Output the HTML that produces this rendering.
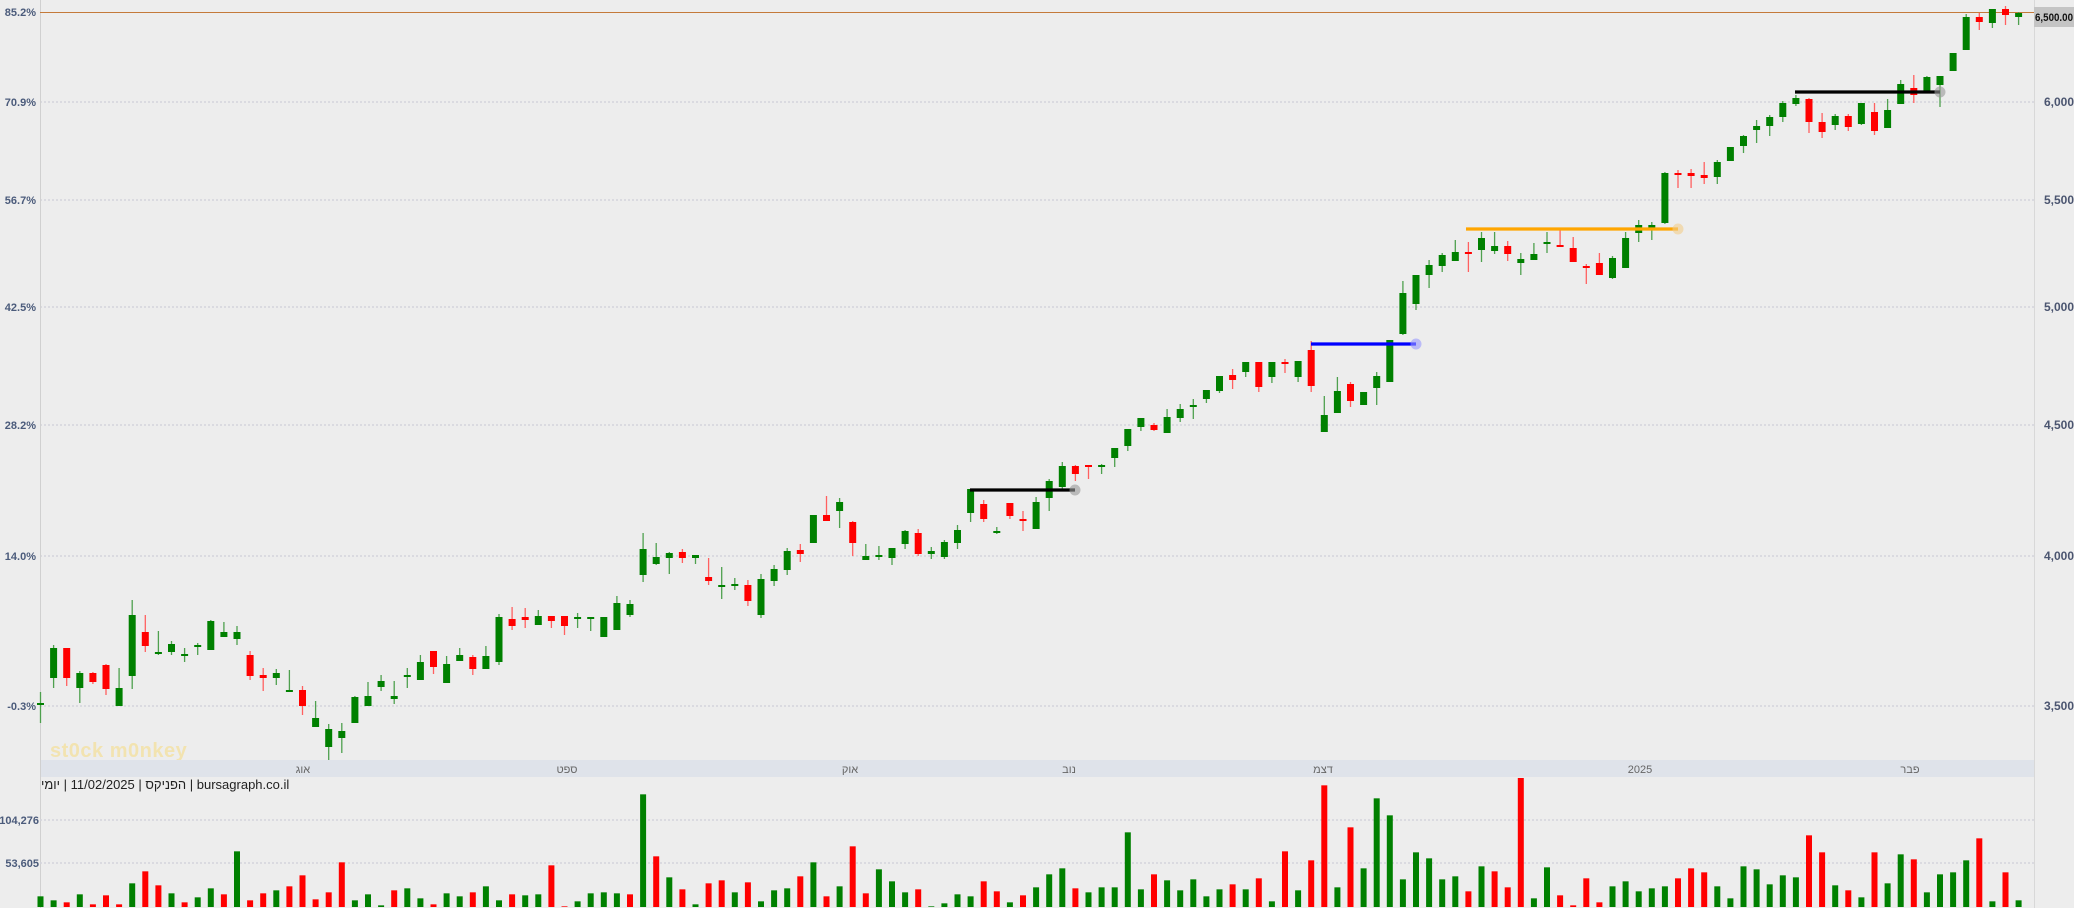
<!DOCTYPE html>
<html><head><meta charset="utf-8"><style>
html,body{margin:0;padding:0;background:#ededed;}
svg{display:block;}
</style></head><body>
<svg id="c" width="2074" height="908" xmlns="http://www.w3.org/2000/svg" font-family="Liberation Sans, sans-serif"></svg>
<script>
const svg=document.getElementById('c');
let h='';
h+='<rect x="0" y="0" width="2074" height="908" fill="#ededed"/>';
const grid=[[102,'70.9%','6,000'],[200,'56.7%','5,500'],[307,'42.5%','5,000'],[425,'28.2%','4,500'],[556,'14.0%','4,000'],[706,'-0.3%','3,500']];
for(const g of grid){
 h+=`<line x1="40" y1="${g[0]}" x2="2034" y2="${g[0]}" stroke="#d3d4dc" stroke-width="1.5" stroke-dasharray="2 2"/>`;
 h+=`<text x="36" y="${g[0]+4}" text-anchor="end" font-size="11" font-weight="bold" fill="#4b5b7b">${g[1]}</text>`;
 h+=`<text x="2044" y="${g[0]+4}" font-size="12" font-weight="bold" fill="#4b5570">${g[2]}</text>`;
}
h+=`<text x="36" y="16" text-anchor="end" font-size="11" font-weight="bold" fill="#4b5b7b">85.2%</text>`;
h+='<line x1="40.5" y1="0" x2="40.5" y2="908" stroke="#d0d0d0"/>';
h+='<line x1="2034.5" y1="0" x2="2034.5" y2="908" stroke="#d8d8d8"/>';
h+='<text x="50" y="757" font-size="20" font-weight="bold" fill="#f2e3b0" letter-spacing="0.5">st0ck m0nkey</text>';
h+='<rect x="41" y="760" width="1993" height="17" fill="#dfe3ea"/>';
const mon=[[303,'אוג'],[567,'ספט'],[850,'אוק'],[1069,'נוב'],[1323,'דצמ'],[1640,'2025'],[1910,'פבר']];
for(const m of mon) h+=`<text x="${m[0]}" y="773" text-anchor="middle" font-size="11" fill="#666" font-family="Liberation Sans, DejaVu Sans, sans-serif">${m[1]}</text>`;
h+='<line x1="40" y1="820" x2="2034" y2="820" stroke="#d3d4dc" stroke-width="1.5" stroke-dasharray="2 2"/>';
h+='<line x1="40" y1="863" x2="2034" y2="863" stroke="#d3d4dc" stroke-width="1.5" stroke-dasharray="2 2"/>';
h+='<text x="39" y="824" text-anchor="end" font-size="11" font-weight="bold" fill="#4b5b7b">104,276</text>';
h+='<text x="39" y="867" text-anchor="end" font-size="11" font-weight="bold" fill="#4b5b7b">53,605</text>';
h+='<line x1="40" y1="12.5" x2="2034" y2="12.5" stroke="#c47a3a" stroke-width="1"/>';
const C=[[703,704,692,723,'g'],[648,678,645,688,'g'],[648,678,648,686,'r'],[673,688,671,703,'g'],[673,682,672,684,'r'],[665,689,664,695,'r'],[688,706,668,706,'g'],[615,676,600,689,'g'],[632,646,615,652,'r'],[652,654,631,655,'g'],[644,652,641,655,'g'],[654,655,648,662,'g'],[645,646,643,655,'g'],[621,650,620,650,'g'],[632,637,622,637,'g'],[632,639,626,645,'g'],[655,676,651,680,'r'],[675,678,668,691,'r'],[673,678,669,685,'g'],[690,691,670,692,'g'],[690,706,686,715,'r'],[718,727,701,727,'g'],[729,747,724,760,'g'],[731,738,723,753,'g'],[697,723,696,723,'g'],[696,706,682,706,'g'],[681,687,675,691,'g'],[696,699,681,704,'g'],[675,676,668,688,'g'],[662,680,655,680,'g'],[651,667,651,674,'r'],[664,683,656,683,'g'],[655,661,648,661,'g'],[657,669,655,675,'r'],[656,669,646,669,'g'],[617,662,614,665,'g'],[619,626,607,630,'r'],[617,620,608,628,'r'],[616,625,610,625,'g'],[616,621,616,628,'r'],[616,626,616,635,'r'],[617,618,613,628,'g'],[617,618,617,631,'g'],[617,637,617,637,'g'],[603,630,596,630,'g'],[604,615,600,617,'g'],[549,575,533,582,'g'],[557,564,543,565,'g'],[553,558,552,574,'g'],[552,558,549,563,'r'],[555,558,555,564,'g'],[577,581,558,585,'r'],[585,586,567,599,'g'],[584,585,578,590,'g'],[585,601,580,606,'r'],[579,615,574,618,'g'],[569,581,565,586,'g'],[551,570,548,575,'g'],[550,554,544,562,'r'],[515,543,515,543,'g'],[515,521,496,521,'r'],[502,511,498,528,'g'],[522,543,521,556,'r'],[556,560,544,560,'g'],[555,557,546,560,'g'],[548,558,548,565,'g'],[531,544,530,549,'g'],[533,554,529,556,'r'],[551,554,547,559,'g'],[542,557,540,559,'g'],[530,543,525,549,'g'],[489,513,489,522,'g'],[504,519,500,522,'r'],[531,532,527,534,'g'],[503,516,503,519,'r'],[519,520,511,531,'r'],[502,529,497,529,'g'],[481,498,479,511,'g'],[466,487,462,489,'g'],[466,474,465,481,'r'],[465,467,465,479,'r'],[465,466,464,474,'g'],[448,458,448,467,'g'],[429,446,429,451,'g'],[418,427,418,431,'g'],[425,430,423,431,'r'],[417,433,409,433,'g'],[409,418,404,422,'g'],[405,406,399,419,'g'],[390,399,390,403,'g'],[376,391,376,393,'g'],[375,380,369,389,'r'],[362,372,362,377,'g'],[362,387,362,392,'r'],[362,377,362,383,'g'],[362,363,359,373,'r'],[361,377,361,382,'g'],[350,386,341,392,'r'],[415,432,396,432,'g'],[391,413,377,413,'g'],[384,401,382,407,'r'],[392,405,392,405,'g'],[376,388,372,405,'g'],[340,382,340,382,'g'],[293,334,281,335,'g'],[275,304,275,310,'g'],[265,275,260,288,'g'],[255,266,253,272,'g'],[252,261,240,261,'g'],[252,254,242,272,'r'],[238,250,232,262,'g'],[246,251,232,254,'g'],[246,254,241,261,'r'],[259,263,253,275,'g'],[254,260,243,260,'g'],[242,244,232,253,'g'],[245,247,230,247,'r'],[248,262,237,262,'r'],[266,268,264,284,'r'],[263,275,253,275,'r'],[258,278,256,279,'g'],[238,268,232,268,'g'],[225,233,220,242,'g'],[225,228,222,240,'g'],[173,223,172,224,'g'],[173,174,170,188,'r'],[173,176,169,188,'r'],[175,178,162,184,'r'],[162,177,160,184,'g'],[147,161,147,161,'g'],[136,146,135,153,'g'],[126,130,120,143,'g'],[117,126,115,136,'g'],[103,117,101,122,'g'],[98,104,95,106,'g'],[99,122,98,133,'r'],[122,132,113,138,'r'],[116,125,114,130,'g'],[116,127,114,131,'r'],[103,124,103,125,'g'],[112,131,103,135,'r'],[110,128,99,128,'g'],[84,104,80,104,'g'],[88,95,75,103,'r'],[77,93,76,93,'g'],[76,85,76,107,'g'],[53,71,53,71,'g'],[17,50,14,50,'g'],[17,22,13,30,'r'],[9,23,9,28,'g'],[9,15,6,25,'r'],[13,17,12,25,'g']];
const col={g:'#008000',r:'#ff0000'};
const wcol={g:'#4ea04e',r:'#ff6060'};
const X=i=>40.5+13.1*i;
C.forEach((c,i)=>{
 const x=X(i);
 h+=`<line x1="${x}" y1="${c[2]}" x2="${x}" y2="${c[3]}" stroke="${wcol[c[4]]}" stroke-width="1.3"/>`;
 const ht=Math.max(2,c[1]-c[0]);
 h+=`<rect x="${x-3.5}" y="${c[0]}" width="7" height="${ht}" fill="${col[c[4]]}"/>`;
});
function ann(x1,x2,y,color,cfill){
 h+=`<line x1="${x1}" y1="${y}" x2="${x2}" y2="${y}" stroke="${color}" stroke-width="3.2"/>`;
 h+=`<circle cx="${x2}" cy="${y}" r="5" fill="${cfill}" stroke="${cfill}" opacity="0.6"/>`;
}
ann(970,1075,490,'#000','#999');
ann(1311,1416,344,'#0000ff','#9a9aff');
ann(1466,1678,229,'#ffa500','#f3cf8c');
ann(1795,1940,92,'#000','#999');
h+='<rect x="2034" y="7" width="40" height="20" fill="#c4c4c4"/>';
h+='<text x="2035" y="21" font-size="11" font-weight="bold" fill="#111" textLength="38" lengthAdjust="spacingAndGlyphs">6,500.00</text>';
const V1='355g,367g,373r,349g,379r,352r,379r,316g,280r,322r,346g,373r,358g,331g,349r,220g,367r,346r,337g,325r,292r,364r,343r,253r,367g,349g,382g,337r,331g,361g,379r,346g,355g,343r,325g,367g,349r,352g,349g,262r,385r,370g,346g,343g,346g,349r,49g,235r,298g,334r,379g,316r,307r,343g,313r,370g,337g,331g,295r,253g,355r,325g,205r,346r,274g,310g,343g,334r,385g,376g,349g,355g,310r,340r,373g,352r,328g';
const V2='289g,271g,331r,343g,328g,328g,163g,334g,289r,307g,337g,304g,355g,334g,319r,334g,301r,370g,220r,337g,247r,22r,328g,148r,271g,61g,112g,304g,223g,241g,304g,295g,340r,265g,280r,328r,0r,361g,268g,352r,382r,301r,373r,325g,310g,340g,331g,325g,301r,271r,283r,325g,361g,265g,274g,319g,292g,298g,172r,223r,322g,337r,358g,223r,316g,229g,244r,343g,289g,283g,247g,181r,370g,283r,367g';
const V=(V1+','+V2).split(',');
V.forEach((v,i)=>{
 const zy=parseInt(v), c=v.slice(-1);
 const top=778+zy/3;
 h+=`<rect x="${X(i)-3}" y="${top}" width="6" height="${907-top}" fill="${col[c]}"/>`;
});
h+='<g id="cap"></g>';
svg.innerHTML=h;
// caption in visual order, each piece a separate text element
const parts=['יומי',' | 11/02/2025 | ','הפניקס',' | bursagraph.co.il'];
const cap=document.getElementById('cap');
let cx=41;
for(const p of parts){
 const t=document.createElementNS('http://www.w3.org/2000/svg','text');
 t.setAttribute('x',cx);t.setAttribute('y',789);
 t.setAttribute('font-size','13');t.setAttribute('fill','#222');
 t.setAttribute('font-family','Liberation Sans, DejaVu Sans, sans-serif');
 t.setAttribute('xml:space','preserve');
 t.style.whiteSpace='pre';
 t.textContent=p;
 cap.appendChild(t);
 cx+=t.getComputedTextLength();
}
</script>
</body></html>
